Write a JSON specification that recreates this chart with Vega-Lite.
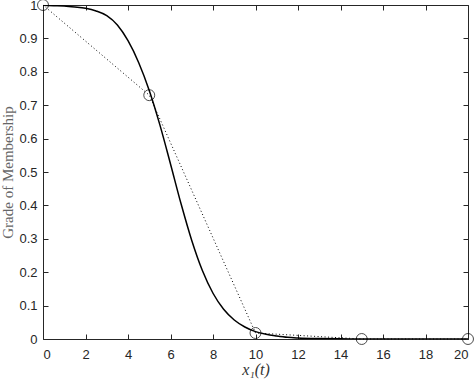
{
  "$schema": "https://vega.github.io/schema/vega-lite/v6.json",
  "autosize": "none",
  "width": 425,
  "height": 334,
  "padding": {"left": 43, "top": 5, "right": 6, "bottom": 40},
  "background": "white",
  "config": {
    "view": {"stroke": null},
    "axis": {
      "grid": false,
      "domainColor": "#262626",
      "tickColor": "#262626",
      "labelColor": "#262626",
      "labelFont": "Liberation Sans",
      "labelFontSize": 13,
      "tickSize": -5,
      "domainWidth": 1,
      "tickWidth": 1
    }
  },
  "datasets": {
    "curve": [
      {"x": 0, "y": 0.999}, {"x": 0.5, "y": 0.998}, {"x": 1, "y": 0.997}, {"x": 1.5, "y": 0.994},
      {"x": 2, "y": 0.99}, {"x": 2.5, "y": 0.982}, {"x": 3, "y": 0.968}, {"x": 3.5, "y": 0.94},
      {"x": 4, "y": 0.893}, {"x": 4.5, "y": 0.828}, {"x": 5, "y": 0.744}, {"x": 5.5, "y": 0.641},
      {"x": 6, "y": 0.524}, {"x": 6.5, "y": 0.404}, {"x": 7, "y": 0.295}, {"x": 7.5, "y": 0.205},
      {"x": 8, "y": 0.137}, {"x": 8.5, "y": 0.089}, {"x": 9, "y": 0.057}, {"x": 9.5, "y": 0.036},
      {"x": 10, "y": 0.022}, {"x": 10.5, "y": 0.014}, {"x": 11, "y": 0.009}, {"x": 11.5, "y": 0.005},
      {"x": 12, "y": 0.003}, {"x": 13, "y": 0.0012}, {"x": 14, "y": 0.0005}, {"x": 15, "y": 0.0002},
      {"x": 16, "y": 0.0001}, {"x": 18, "y": 0}, {"x": 20, "y": 0}
    ],
    "pts": [
      {"x": 0, "y": 1}, {"x": 5, "y": 0.73}, {"x": 10, "y": 0.018}, {"x": 15, "y": 0}, {"x": 20, "y": 0}
    ]
  },
  "layer": [
    {
      "data": {"name": "curve"},
      "mark": {"type": "line", "color": "black", "strokeWidth": 1.5, "interpolate": "monotone", "clip": true},
      "encoding": {
        "x": {"field": "x", "type": "quantitative", "scale": {"domain": [0, 20], "nice": false},
          "axis": {"orient": "bottom", "values": [0,2,4,6,8,10,12,14,16,18,20], "labelPadding": 14,
            "title": "x₁(t)", "titleFont": "Liberation Serif", "titleFontStyle": "italic", "titleFontWeight": "normal", "titleFontSize": 16, "titleColor": "#333333", "titlePadding": 0}},
        "y": {"field": "y", "type": "quantitative", "scale": {"domain": [0, 1], "nice": false},
          "axis": {"orient": "left", "values": [0,0.1,0.2,0.3,0.4,0.5,0.6,0.7,0.8,0.9,1], "format": "~g", "labelPadding": 11,
            "title": "Grade of Membership", "titleFont": "Liberation Serif", "titleFontWeight": "normal", "titleFontSize": 15, "titleColor": "#666666", "titlePadding": 3}}
      }
    },
    {
      "data": {"name": "pts"},
      "mark": {"type": "line", "color": "black", "strokeWidth": 1, "strokeDash": [1, 2.5]},
      "encoding": {
        "x": {"field": "x", "type": "quantitative", "axis": {"orient": "top", "values": [0,2,4,6,8,10,12,14,16,18,20], "labels": false, "title": null}},
        "y": {"field": "y", "type": "quantitative", "axis": {"orient": "right", "values": [0,0.1,0.2,0.3,0.4,0.5,0.6,0.7,0.8,0.9,1], "labels": false, "title": null}}
      }
    },
    {
      "data": {"name": "pts"},
      "mark": {"type": "point", "shape": "circle", "filled": false, "color": "black", "strokeWidth": 1, "size": 120, "clip": false},
      "encoding": {
        "x": {"field": "x", "type": "quantitative", "axis": null},
        "y": {"field": "y", "type": "quantitative", "axis": null}
      }
    }
  ],
  "resolve": {"axis": {"x": "independent", "y": "independent"}}
}
